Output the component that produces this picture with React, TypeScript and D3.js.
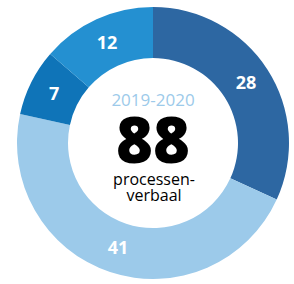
import * as d3 from 'd3';

const labels = ['28', '41', '7', '12'];
const values = [28, 41, 7, 12];
const colors = ['#2d67a2', '#9ccaea', '#0f74b8', '#2490d1'];
const period = '2019-2020';
const total = 88;
const unitLines = ['processen-', 'verbaal'];

const WIDTH = 294;
const HEIGHT = 284;
const cx = 153;
const cy = 143;
const outerR = 136;
const innerR = 85;

export default function App() {
  const pie = d3
    .pie<number>()
    .sort(null)
    .value(d => d);
  const arcs = pie(values);
  const arc = d3.arc<d3.PieArcDatum<number>>().innerRadius(innerR).outerRadius(outerR);

  return (
    <svg
      width={WIDTH}
      height={HEIGHT}
      style={{ position: 'absolute', left: 0, top: 0, fontFamily: '"Open Sans", sans-serif' }}
    >
      <g transform={`translate(${cx},${cy})`}>
        {arcs.map((a, i) => (
          <path key={i} d={arc(a) ?? ''} fill={colors[i]} />
        ))}
        {arcs.map((a, i) => {
          const [x, y] = arc.centroid(a);
          return (
            <text
              key={'l' + i}
              x={x}
              y={y + 6}
              textAnchor="middle"
              fill="#fff"
              fontWeight={700}
              fontSize={18}
            >
              {labels[i]}
            </text>
          );
        })}
        <text x={0} y={-37} textAnchor="middle" fill="#9ccaea" fontSize={17}>
          {period}
        </text>
        <text x={0} y={20} textAnchor="middle" fill="#000" fontWeight={800} fontSize={63}>
          {total}
        </text>
        {unitLines.map((t, i) => (
          <text key={t} x={1} y={42 + i * 16} textAnchor="middle" fill="#000" fontSize={16}>
            {t}
          </text>
        ))}
      </g>
    </svg>
  );
}
